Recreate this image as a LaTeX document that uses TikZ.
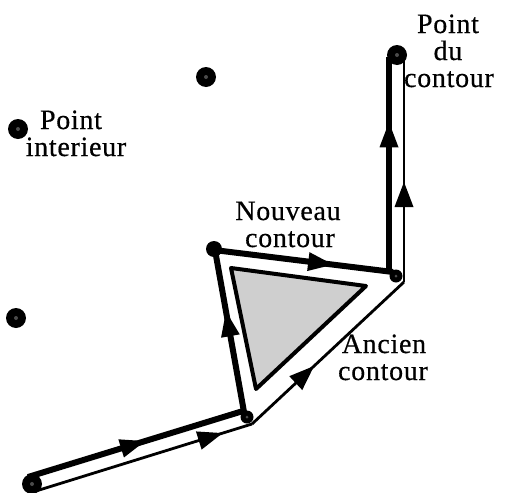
\documentclass[tikz,border=0pt]{standalone}
\usepackage{fontspec}
\setmainfont[LetterSpace=2.5,FakeBold=0.5]{Liberation Serif}
\usetikzlibrary{decorations.markings}
\begin{document}
\begin{tikzpicture}[x=1pt,y=-1pt,
  thickline/.style={line width=6pt,line join=round},
  thinline/.style={line width=2.8pt,line join=round},
  arrowat/.style={postaction={decorate,decoration={markings,
      mark=at position #1 with {\fill (10pt,0pt) -- (-15pt,9.5pt) -- (-15pt,-9.5pt) -- cycle;}}}},
  txt/.style={font=\fontsize{28}{27}\selectfont,anchor=base,inner sep=0pt},
  bigdot/.style={circle,fill=black,minimum size=20pt,inner sep=0pt},
  smalldot/.style={circle,fill=black,minimum size=13pt,inner sep=0pt},
  stip/.style={circle,fill=gray!60!black,minimum size=4pt,inner sep=0pt}]
\useasboundingbox[fill=white] (0,0) rectangle (512,493);
% points
\coordinate (S) at (32,484);
\coordinate (A) at (247,417);
\coordinate (B) at (214,249);
\coordinate (C) at (396,276);
\coordinate (T) at (397,55);
% band edges
\coordinate (u1) at (28,477);
\coordinate (u2) at (243,411);
\coordinate (l1) at (36,491);
\coordinate (l2) at (252,424);
\coordinate (l3) at (404,282);
\coordinate (l4) at (404,57);
\coordinate (v1) at (389,272);
\coordinate (v2) at (389,57);
\coordinate (ab1) at (244,412);
\coordinate (ab2) at (215,250);
\coordinate (bc1) at (214,250);
\coordinate (bc2) at (393,272);
% shaded triangle
\coordinate (g1) at (231,268);
\coordinate (g2) at (366,286);
\coordinate (g3) at (256,389);
\draw[line width=4pt,line join=round,fill=gray!38] (g1) -- (g2) -- (g3) -- cycle;
% old contour (thin)
\draw[thinline,arrowat=0.82] (l1) -- (l2);
\draw[thinline,arrowat=0.36] (l2) -- (l3);
\draw[thinline,arrowat=0.40] (l3) -- (l4);
% new contour (thick)
\draw[thickline,arrowat=0.50] (u1) -- (u2);
\draw[thickline,arrowat=0.56] (ab1) -- (ab2);
\draw[thickline,arrowat=0.61] (bc1) -- (bc2);
\draw[thickline,arrowat=0.65] (v1) -- (v2);
% points
\node[bigdot] (pS) at (S) {};
\node[stip] at (S) {};
\node[bigdot] (pT) at (T) {};
\node[stip] at (T) {};
\node[smalldot] (pA) at (A) {};
\node[stip,minimum size=3pt] at (A) {};
\node[smalldot] (pC) at (C) {};
\node[stip,minimum size=3pt] at (C) {};
\node[circle,fill=black,minimum size=16pt,inner sep=0pt] (pB) at (B) {};
\node[bigdot] (i1) at (206,77) {};
\node[stip] at (i1) {};
\node[bigdot] (i2) at (18,129) {};
\node[stip] at (i2) {};
\node[bigdot] (i3) at (16,318) {};
\node[stip] at (i3) {};
% labels
\node[txt] (t1) at (71,129) {Point};
\node[txt] (t2) at (76,156) {interieur};
\node[txt] (t3) at (448,33) {Point};
\node[txt] (t4) at (448,60) {du};
\node[txt] (t5) at (449,87) {contour};
\node[txt] (t6) at (288,220) {Nouveau};
\node[txt] (t7) at (290,247) {contour};
\node[txt] (t8) at (384,353) {Ancien};
\node[txt] (t9) at (383,380) {contour};
\end{tikzpicture}
\end{document}
